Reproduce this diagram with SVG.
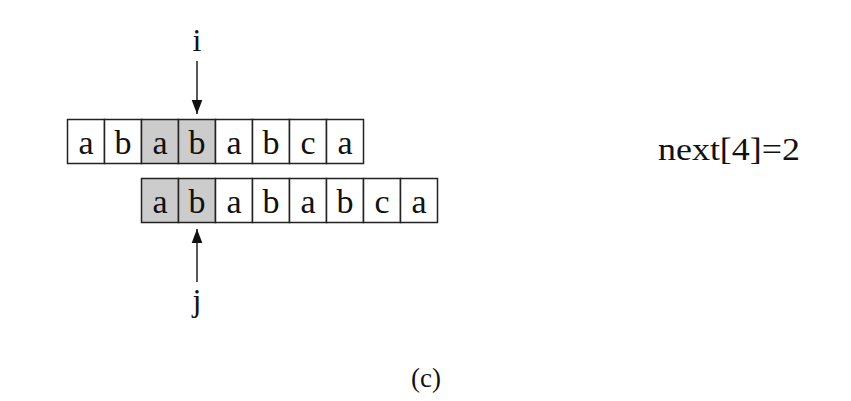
<svg xmlns="http://www.w3.org/2000/svg" width="851" height="401" viewBox="0 0 851 401">
<defs>
<marker id="ah" viewBox="0 0 10 10" refX="10" refY="5" markerWidth="14" markerHeight="14" markerUnits="userSpaceOnUse" orient="auto">
<path d="M0,1.2 L10,5 L0,8.8 Z" fill="#111"/>
</marker>
</defs>
<style>
.c{fill:#fff;stroke:#222;stroke-width:1.5}
.g{fill:#ccc;stroke:#222;stroke-width:1.5}
.t{font-family:"Liberation Serif","DejaVu Serif",serif;font-size:34px;fill:#111;text-anchor:middle}
.l{font-family:"Liberation Serif","DejaVu Serif",serif;fill:#111;text-anchor:middle}
.a{stroke:#111;stroke-width:1.4;fill:none;marker-end:url(#ah)}
</style>
<rect width="851" height="401" fill="#fff"/>
<g id="text-row">
<rect class="c" x="67.5" y="119.5" width="37" height="44"/><text class="t" x="86" y="154">a</text>
<rect class="c" x="104.5" y="119.5" width="37" height="44"/><text class="t" x="123" y="154">b</text>
<rect class="g" x="141.5" y="119.5" width="37" height="44"/><text class="t" x="160" y="154">a</text>
<rect class="g" x="178.5" y="119.5" width="37" height="44"/><text class="t" x="197" y="154">b</text>
<rect class="c" x="215.5" y="119.5" width="37" height="44"/><text class="t" x="234" y="154">a</text>
<rect class="c" x="252.5" y="119.5" width="37" height="44"/><text class="t" x="271" y="154">b</text>
<rect class="c" x="289.5" y="119.5" width="37" height="44"/><text class="t" x="308" y="154">c</text>
<rect class="c" x="326.5" y="119.5" width="37" height="44"/><text class="t" x="345" y="154">a</text>
</g>
<g id="pattern-row">
<rect class="g" x="141.5" y="178.5" width="37" height="44"/><text class="t" x="160" y="213">a</text>
<rect class="g" x="178.5" y="178.5" width="37" height="44"/><text class="t" x="197" y="213">b</text>
<rect class="c" x="215.5" y="178.5" width="37" height="44"/><text class="t" x="234" y="213">a</text>
<rect class="c" x="252.5" y="178.5" width="37" height="44"/><text class="t" x="271" y="213">b</text>
<rect class="c" x="289.5" y="178.5" width="37" height="44"/><text class="t" x="308" y="213">a</text>
<rect class="c" x="326.5" y="178.5" width="37" height="44"/><text class="t" x="345" y="213">b</text>
<rect class="c" x="363.5" y="178.5" width="37" height="44"/><text class="t" x="382" y="213">c</text>
<rect class="c" x="400.5" y="178.5" width="37" height="44"/><text class="t" x="419" y="213">a</text>
</g>
<g id="label-i"><text class="l" x="197" y="51" font-size="32">i</text></g>
<g id="label-j"><text class="l" x="197" y="311" font-size="32">j</text></g>
<g id="connectors">
<line class="a" x1="197" y1="61" x2="197" y2="114"/>
<line class="a" x1="197" y1="282" x2="197" y2="229"/>
</g>
<g id="label-next"><text class="l" x="729" y="160" font-size="32" textLength="142" lengthAdjust="spacingAndGlyphs">next[4]=2</text></g>
<g id="caption"><text class="l" x="426" y="387" font-size="27">(c)</text></g>
</svg>
